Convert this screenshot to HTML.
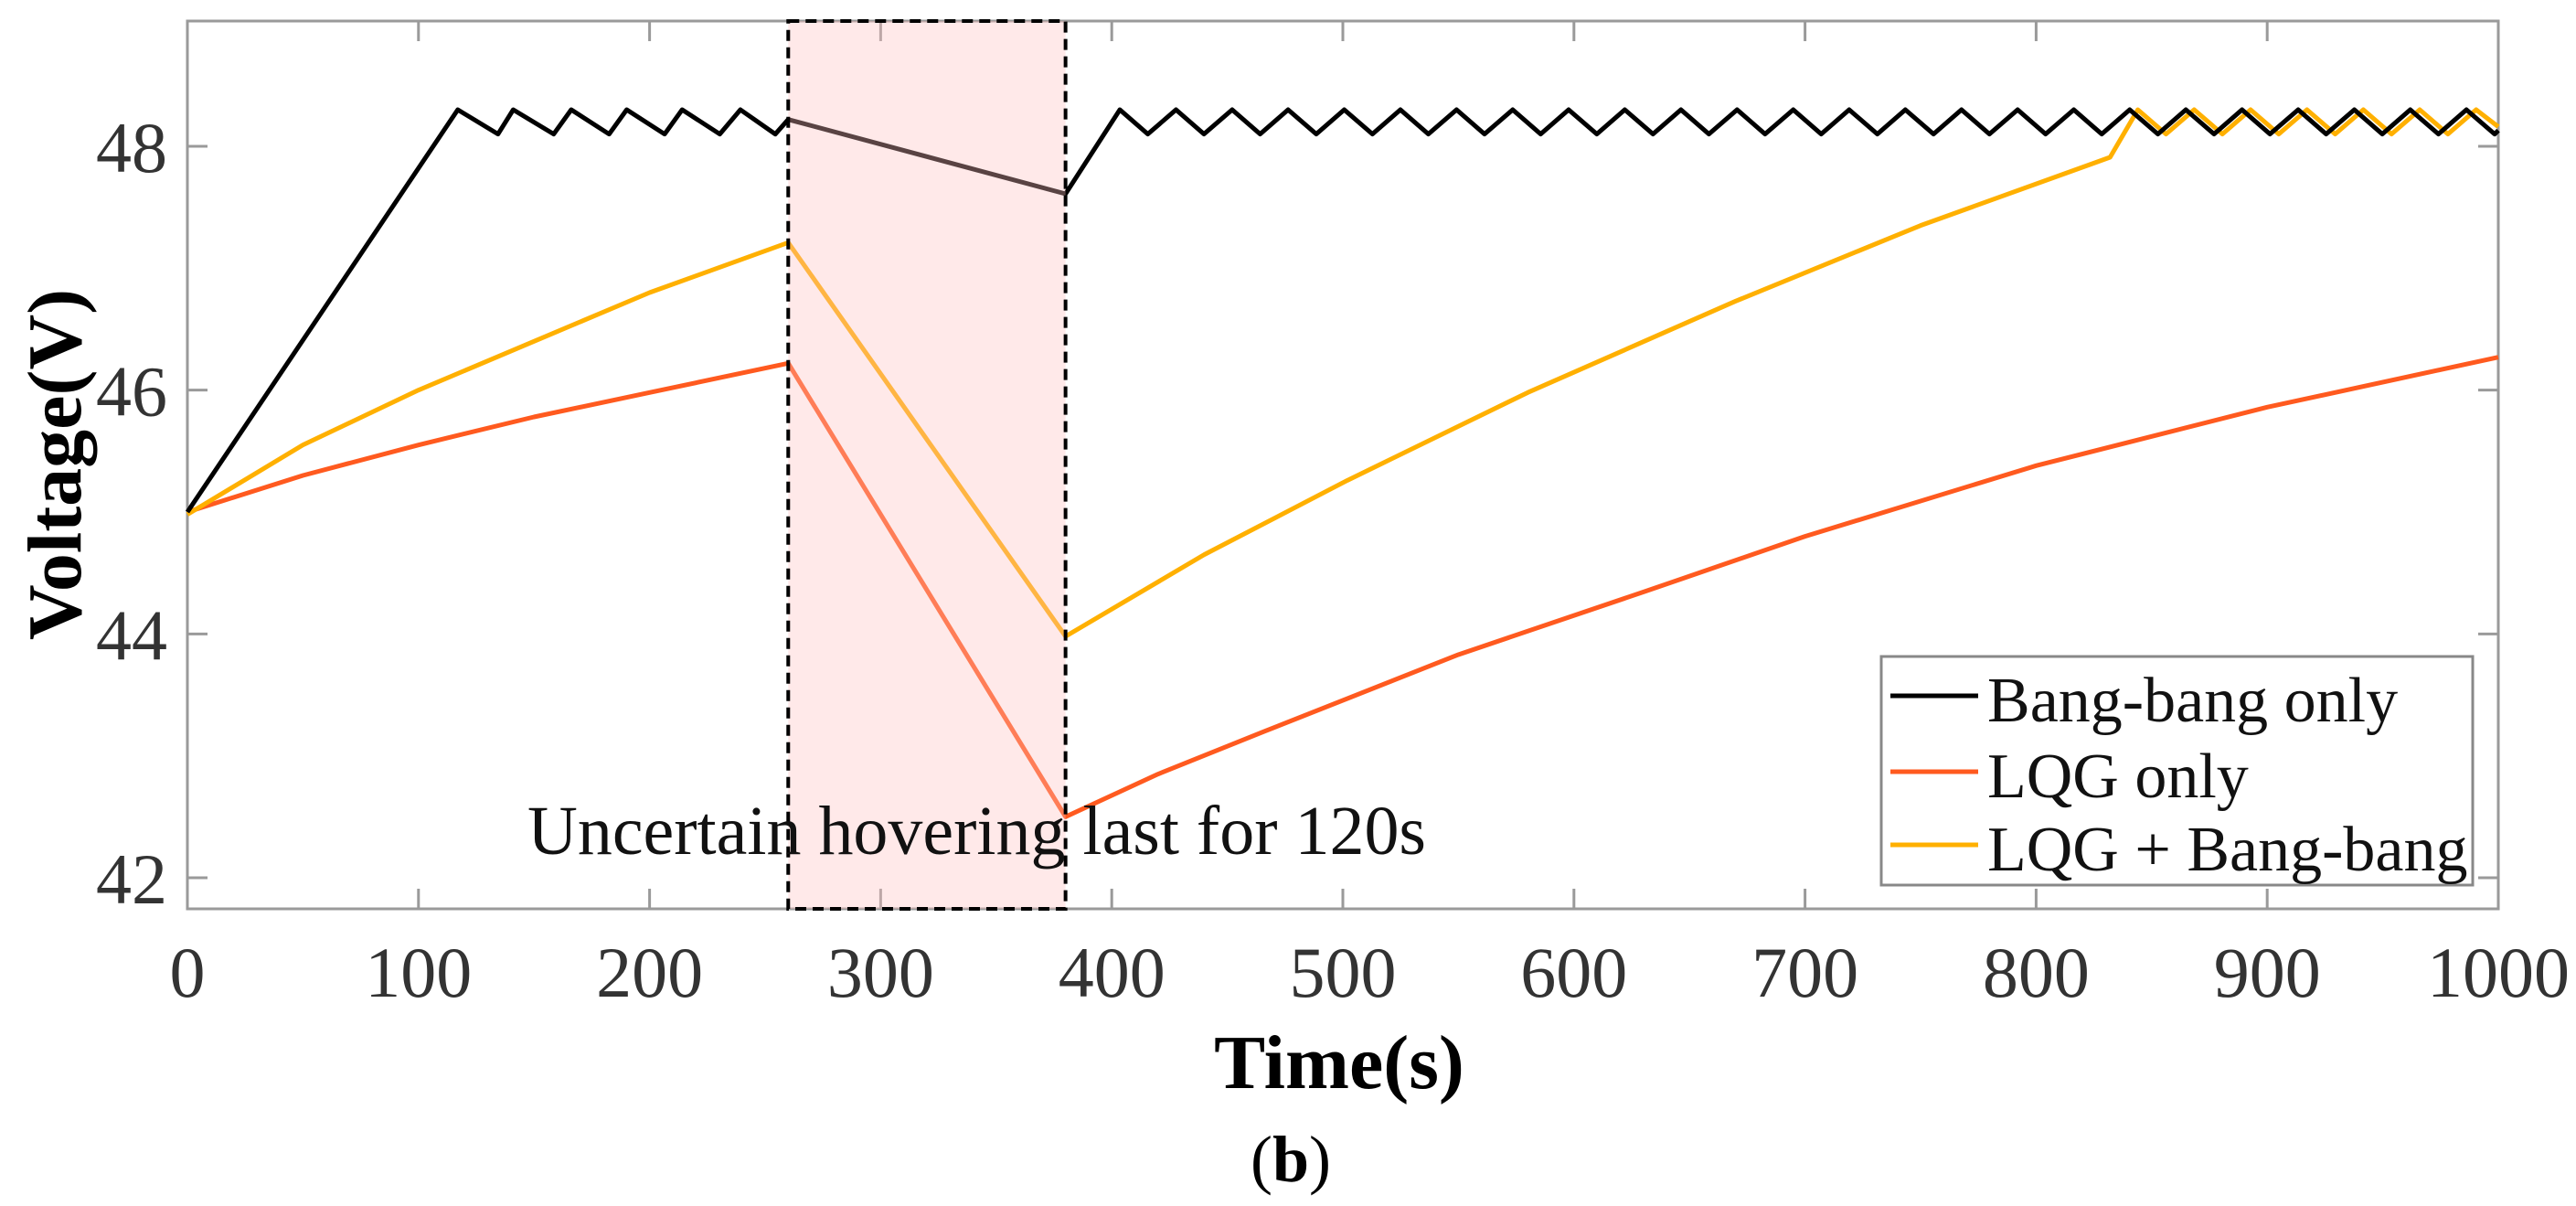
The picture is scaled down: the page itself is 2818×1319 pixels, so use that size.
<!DOCTYPE html>
<html><head><meta charset="utf-8">
<style>
html,body{margin:0;padding:0;background:#fff;}
svg{display:block;}
text{font-family:"Liberation Serif",serif;}
</style></head>
<body>
<svg id="chart" width="2818" height="1319" viewBox="0 0 2818 1319" xmlns="http://www.w3.org/2000/svg"></svg>
<script>
const xTicks = [0,100,200,300,400,500,600,700,800,900,1000];
const yTicks = [42,44,46,48];
const hoverWindow = [260,380];
const bangT = [0,117,134.4,141,158.5,166.1,182.5,190.1,206.5,214.1,230.4,239.3,254.4,260,380,403.5,415.6,427.8,439.9,452.1,464.2,476.3,488.5,500.6,512.8,524.9,537.0,549.2,561.3,573.5,585.6,597.7,609.9,622.0,634.2,646.3,658.4,670.6,682.7,694.9,707.0,719.1,731.3,743.4,755.6,767.7,779.8,792.0,804.1,816.3,828.4,840.5,852.7,864.8,877.0,889.1,901.2,913.4,925.5,937.7,949.8,961.9,974.1,986.2,998.4,1000];
const bangV = [45,48.3,48.1,48.3,48.1,48.3,48.1,48.3,48.1,48.3,48.1,48.3,48.1,48.22,47.61,48.3,48.1,48.3,48.1,48.3,48.1,48.3,48.1,48.3,48.1,48.3,48.1,48.3,48.1,48.3,48.1,48.3,48.1,48.3,48.1,48.3,48.1,48.3,48.1,48.3,48.1,48.3,48.1,48.3,48.1,48.3,48.1,48.3,48.1,48.3,48.1,48.3,48.1,48.3,48.1,48.3,48.1,48.3,48.1,48.3,48.1,48.3,48.1,48.3,48.1,48.13];
const lqgT = [0,50,100,150,200,260,380,420,466,550,631,700,800,900,1000];
const lqgV = [45,45.3,45.55,45.78,45.98,46.22,42.5,42.85,43.2,43.83,44.35,44.8,45.38,45.86,46.27];
const mixT = [0,50,100,150,200,260,380,440,502,580,670,750,832,844,856.2,868.4,880.6,892.8,905,917.2,929.4,941.6,953.8,966,978.2,990.4,1000];
const mixV = [44.98,45.55,46.0,46.4,46.8,47.21,43.98,44.65,45.26,45.98,46.73,47.35,47.91,48.3,48.1,48.3,48.1,48.3,48.1,48.3,48.1,48.3,48.1,48.3,48.1,48.3,48.16];

const NS="http://www.w3.org/2000/svg";
const svg=document.getElementById('chart');
const L=205,R=2733,T=23,B=994;
const X=t=>L+(t-0)*(R-L)/1000;
const Y=v=>160+(48-v)*133.33;
function mk(tag,attrs,parent){const e=document.createElementNS(NS,tag);for(const k in attrs)e.setAttribute(k,attrs[k]);(parent||svg).appendChild(e);return e;}

const frame=mk('rect',{x:L,y:T,width:R-L,height:B-T,fill:'#fff',stroke:'#9a9a9a','stroke-width':3});



xTicks.forEach(t=>{
  const g=mk('g',{});
  
  
  mk('line',{x1:X(t),x2:X(t),y1:B,y2:B-22,stroke:'#9a9a9a','stroke-width':3},g);
  mk('line',{x1:X(t),x2:X(t),y1:T,y2:T+22,stroke:'#9a9a9a','stroke-width':3},g);
  const tx=mk('text',{x:X(t),y:1090,'font-size':78,fill:'#333','text-anchor':'middle'},g);
  tx.textContent=t;
});
yTicks.forEach(v=>{
  const g=mk('g',{});
  
  
  mk('line',{x1:L,x2:L+22,y1:Y(v),y2:Y(v),stroke:'#9a9a9a','stroke-width':3},g);
  mk('line',{x1:R,x2:R-22,y1:Y(v),y2:Y(v),stroke:'#9a9a9a','stroke-width':3},g);
  const tx=mk('text',{x:183,y:Y(v)+28,'font-size':78,fill:'#333','text-anchor':'end'},g);
  tx.textContent=v;
});

function series(ts,vs,color,name){
  const p=mk('polyline',{points:ts.map((t,i)=>X(t)+','+Y(vs[i])).join(' '),fill:'none',stroke:color,'stroke-width':5,'stroke-linejoin':'round'});
  
  
}
series(lqgT,lqgV,'#ff5a1f','lqg-only-line');
series(mixT,mixV,'#ffb000','lqg-bang-bang-line');
series(bangT,bangV,'#000','bang-bang-line');

const sh=mk('rect',{x:X(hoverWindow[0]),y:T,width:X(hoverWindow[1])-X(hoverWindow[0]),height:B-T,fill:'rgb(255,192,192)','fill-opacity':0.35,stroke:'#000','stroke-width':4,'stroke-dasharray':'12 7'});



const ann=mk('text',{x:577,y:934,'font-size':76,fill:'#111',textLength:983,lengthAdjust:'spacingAndGlyphs'});
ann.textContent='Uncertain hovering last for 120s';



const lg=mk('g',{});


mk('rect',{x:2058,y:718,width:647,height:250,fill:'#fff',stroke:'#888','stroke-width':3},lg);
const entries=[['Bang-bang only','#000',789,'legend-entry-bang-bang'],['LQG only','#ff5a1f',872,'legend-entry-lqg'],['LQG + Bang-bang','#ffb000',952,'legend-entry-lqg-bang-bang']];
entries.forEach(e=>{
  const g=mk('g',{},lg);
  
  
  mk('line',{x1:2068,x2:2164,y1:e[2]-28,y2:e[2]-28,stroke:e[1],'stroke-width':5},g);
  const t=mk('text',{x:2174,y:e[2],'font-size':70,fill:'#111'},g);
  t.textContent=e[0];
});

const yl=mk('text',{x:0,y:0,'font-size':84,'font-weight':'bold',fill:'#000','text-anchor':'middle',transform:'translate(88,508) rotate(-90)'});
yl.textContent='Voltage(V)';



const xl=mk('text',{x:1465,y:1190,'font-size':84,'font-weight':'bold',fill:'#000','text-anchor':'middle'});
xl.textContent='Time(s)';



const cap=mk('text',{x:1412,y:1292,'font-size':72,fill:'#000','text-anchor':'middle'});
cap.innerHTML='(<tspan font-weight="bold">b</tspan>)';


</script>
</body></html>
